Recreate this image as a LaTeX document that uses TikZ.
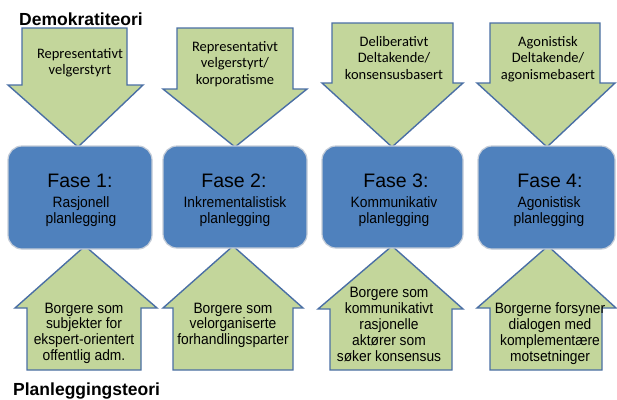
\documentclass[tikz,border=0pt]{standalone}
\usepackage{fontspec}
\setmainfont{Liberation Sans}
\newfontfamily\calib{Carlito}
\newfontfamily\arialn[FakeStretch=0.92]{Liberation Sans}
\definecolor{lgreen}{HTML}{C3D69B}
\definecolor{aborder}{HTML}{4A6FA5}
\definecolor{bfill}{HTML}{4F81BD}
\definecolor{bborder}{HTML}{C5CDD8}
\begin{document}
\begin{tikzpicture}[x=1pt,y=-1pt,
  arrowshape/.style={fill=lgreen, draw=aborder, line width=1.4pt, line join=miter},
  phasebox/.style={draw=bborder, fill=bfill, line width=1.2pt, rounded corners=14pt, inner sep=0pt},
  toptext/.style={font=\calib\fontsize{14.5}{16.5}\selectfont, align=center, anchor=base, inner sep=0pt},
  bottext/.style={font=\arialn\fontsize{15}{15.8}\selectfont, align=center, anchor=base, inner sep=0pt},
  phasetitle/.style={font=\fontsize{19.5}{22}\selectfont, anchor=base, inner sep=0pt},
  phasesub/.style={font=\arialn\fontsize{15}{16.5}\selectfont, align=center, anchor=base, inner sep=0pt},
  heading/.style={font=\bfseries\fontsize{17.5}{20}\selectfont, anchor=base west, inner sep=0pt}
]
\useasboundingbox (0,0) rectangle (617,399);
\fill[white] (0,0) rectangle (617,399);

% down arrows
\draw[arrowshape] (22,28) -- (127,28) -- (127,85) -- (143,85) -- (78,147) -- (8,85) -- (22,85) -- cycle;
\draw[arrowshape] (177,28) -- (293,28) -- (293,89) -- (307,89) -- (235,147) -- (163,89) -- (177,89) -- cycle;
\draw[arrowshape] (332,23) -- (453,23) -- (453,83) -- (463,83) -- (392,147) -- (322,83) -- (332,83) -- cycle;
\draw[arrowshape] (490,23) -- (600,23) -- (600,83) -- (615,83) -- (547,147) -- (477,83) -- (490,83) -- cycle;

% up arrows
\draw[arrowshape] (85,246) -- (157,308) -- (141,308) -- (141,370) -- (27,370) -- (27,308) -- (15,308) -- cycle;
\draw[arrowshape] (233,246) -- (303,308) -- (293,308) -- (293,370) -- (173,370) -- (173,308) -- (163,308) -- cycle;
\draw[arrowshape] (392,246) -- (463,309) -- (452,309) -- (452,370) -- (330,370) -- (330,309) -- (318,309) -- cycle;
\draw[arrowshape] (548,246) -- (616,308) -- (602,308) -- (602,370) -- (490,370) -- (490,308) -- (477,308) -- cycle;

% phase boxes
\node[phasebox, minimum width=144pt, minimum height=103pt] (b1) at (80,197.5) {};
\node[phasebox, minimum width=144pt, minimum height=102pt] (b2) at (235,197) {};
\node[phasebox, minimum width=141pt, minimum height=102pt] (b3) at (392.5,197) {};
\node[phasebox, minimum width=137pt, minimum height=103pt] (b4) at (546.5,197.5) {};

% phase texts (base = last line)
\node[phasetitle] (t1) at (80,187) {Fase 1:};
\node[phasesub] (s1) at (81,223.5) {Rasjonell\\planlegging};
\node[phasetitle] (t2) at (234,187) {Fase 2:};
\node[phasesub] (s2) at (235,223.5) {Inkrementalistisk\\planlegging};
\node[phasetitle] (t3) at (396,187) {Fase 3:};
\node[phasesub] (s3) at (394,223.5) {Kommunikativ\\planlegging};
\node[phasetitle] (t4) at (550,187) {Fase 4:};
\node[phasesub] (s4) at (549,223.5) {Agonistisk\\planlegging};

% top arrow texts
\node[toptext] (d1) at (80,74.5) {Representativt\\velgerstyrt};
\node[toptext] (d2) at (235,84) {Representativt\\velgerstyrt/\\korporatisme};
\node[toptext] (d3) at (394,79) {Deliberativt\\Deltakende/\\konsensusbasert};
\node[toptext] (d4) at (548,79) {Agonistisk\\Deltakende/\\agonismebasert};

% bottom arrow texts
\node[bottext] (u1) at (84,360.4) {Borgere som\\subjekter for\\ekspert-orientert\\offentlig adm.};
\node[bottext] (u2) at (233,344.6) {Borgere som\\velorganiserte\\forhandlingsparter};
\node[bottext] (u3) at (389,361) {Borgere som\\kommunikativt\\rasjonelle\\aktører som\\søker konsensus};
\node[bottext] (u4) at (550,361) {Borgerne forsyner\\dialogen med\\komplementære\\motsetninger};

% headings
\node[heading] (h1) at (19,25) {Demokratiteori};
\node[heading] (h2) at (13,395) {Planleggingsteori};
\end{tikzpicture}
\end{document}
